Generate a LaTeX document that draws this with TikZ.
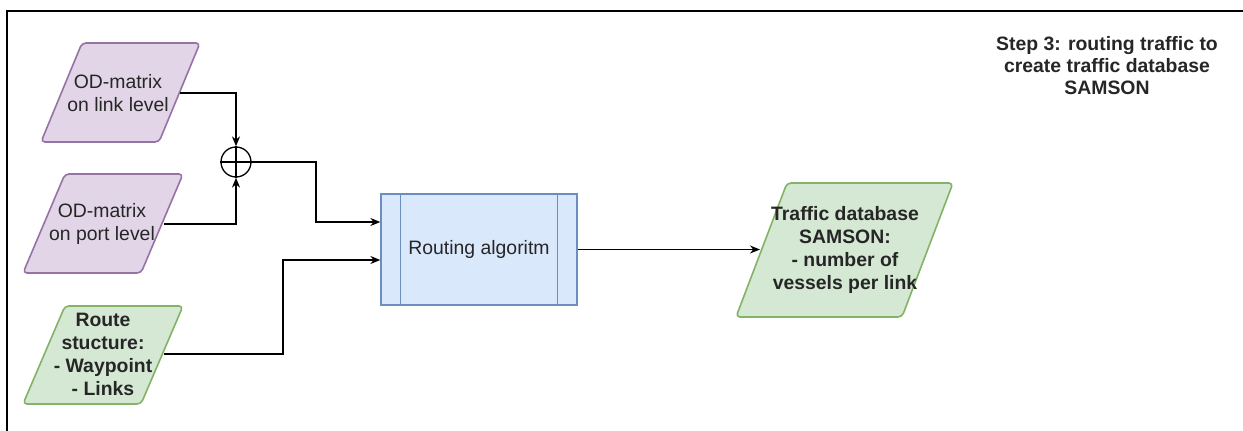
\documentclass[tikz,border=0pt]{standalone}
\usepackage{fontspec}
\setmainfont{Liberation Sans}
\usetikzlibrary{arrows.meta}
\definecolor{purfill}{HTML}{E1D5E7}
\definecolor{purline}{HTML}{9673A6}
\definecolor{grnfill}{HTML}{D5E8D4}
\definecolor{grnline}{HTML}{82B366}
\definecolor{blufill}{HTML}{DAE8FC}
\definecolor{bluline}{HTML}{6C8EBF}
\definecolor{txt}{HTML}{262626}
\begin{document}
\begin{tikzpicture}[x=1pt,y=-1pt,
  lbl/.style={text=txt,align=center,inner sep=0pt,font=\fontsize{19.4}{23}\selectfont},
  boldlbl/.style={lbl,font=\fontsize{19.4}{23}\selectfont\bfseries},
  purshape/.style={draw=purline,fill=purfill,line width=1.6pt,rounded corners=4pt},
  grnshape/.style={draw=grnline,fill=grnfill,line width=1.6pt,rounded corners=4pt},
  conn/.style={draw=black,line width=1.3pt,-{Stealth[length=10pt,width=8pt]}},
  plain/.style={draw=black,line width=1.3pt}]
\useasboundingbox (0,0) rectangle (1243,431);
\fill[white] (0,0) rectangle (1243,431);

% outer frame (top and left edges)
\draw[line width=1.5pt] (1243,11) -- (7,11) -- (7,431);

% input data parallelograms
\path[purshape] (82,43) -- (200,43) -- (159,142) -- (41,142) -- cycle;
\node[lbl] (odlink) at (118,93) {OD-matrix\\on link level};
\path[purshape] (65,174) -- (183,174) -- (141,273) -- (23,273) -- cycle;
\node[lbl] (odport) at (102,224) {OD-matrix\\on port level};
\path[grnshape] (65,306) -- (183,306) -- (141,404) -- (23,404) -- cycle;
\node[boldlbl] (route) at (103,354) {Route\\stucture:\\- Waypoint\\- Links};

% summing junction
\node[circle,draw=black,line width=1.3pt,minimum size=30pt,inner sep=0pt] (sum) at (236,162) {};
\draw[plain] (sum.north) -- (sum.south) (sum.west) -- (sum.east);

% routing process
\node[draw=bluline,fill=blufill,line width=1.3pt,minimum width=196pt,minimum height=111pt,inner sep=0pt] (routing) at (479,249.5) {};
\draw[bluline,line width=1.3pt] ([xshift=20pt]routing.north west) -- ([xshift=20pt]routing.south west)
  ([xshift=-20pt]routing.north east) -- ([xshift=-20pt]routing.south east);
\node[lbl] (routingtxt) at (routing.center) {Routing algoritm};

% output parallelogram
\path[grnshape] (787,183) -- (953,183) -- (902,317) -- (736,317) -- cycle;
\node[boldlbl] (samson) at (845,250) {Traffic database\\SAMSON:\\- number of\\vessels per link};

% step title
\node[boldlbl,font=\fontsize{19.4}{22}\selectfont\bfseries] (title) at (1107,66) {Step 3: routing traffic to\\create traffic database\\SAMSON};

% connector end points
\coordinate (odlinkout) at (180,93);
\coordinate (odportout) at (164,224);
\coordinate (routeout) at (164,354);
\coordinate (rin1) at ([yshift=27.5pt]routing.west);
\coordinate (rin2) at ([yshift=-10.5pt]routing.west);
\coordinate (samsonin) at (760,249.5);

% connectors
\draw[conn] (odlinkout) -| (sum.north);
\draw[conn] (odportout) -| (sum.south);
\draw[conn] (sum.east) -- (316,162) |- (rin1);
\draw[conn] (routeout) -- (283,354) |- (rin2);
\draw[conn] (routing.east) -- (samsonin);
\end{tikzpicture}
\end{document}
